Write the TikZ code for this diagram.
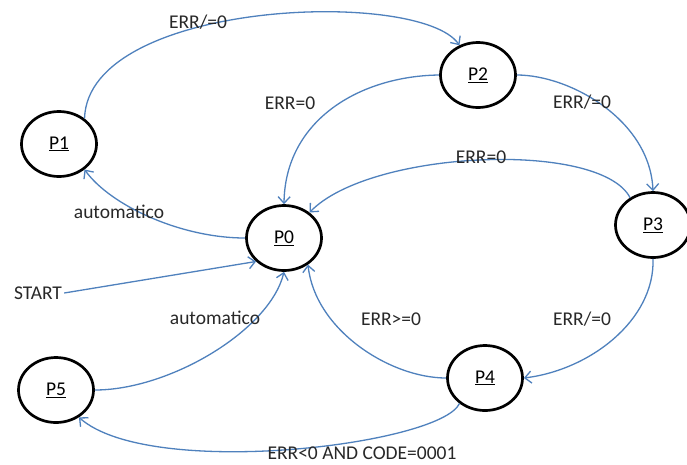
\documentclass[tikz,border=0pt]{standalone}
\usepackage{fontspec}
\setmainfont{Carlito}
\usetikzlibrary{shapes.geometric,arrows.meta}
\definecolor{linkblue}{RGB}{79,129,189}
\definecolor{txt}{RGB}{40,40,40}
\begin{document}
\begin{tikzpicture}[x=1pt,y=-1pt,
  state/.style={ellipse,draw=black,line width=2.7pt,minimum width=75pt,
    minimum height=65pt,inner sep=0pt,font=\fontsize{19.5}{22}\selectfont},
  link/.style={draw=linkblue,line width=1.3pt,
    -{Straight Barb[length=6.5pt,width=12pt]}},
  lbl/.style={text=txt,font=\fontsize{19.5}{22}\selectfont,inner sep=2pt}]
\useasboundingbox[fill=white] (0,0) rectangle (687,464);

% states
\node[state] (P0) at (284,238) {\underline{P0}};
\node[state] (P1) at (59,144)  {\underline{P1}};
\node[state] (P2) at (478,75)  {\underline{P2}};
\node[state] (P3) at (653,225) {\underline{P3}};
\node[state] (P4) at (485,378) {\underline{P4}};
\node[state] (P5) at (56,390)  {\underline{P5}};
\node[lbl] (start) at (38,293) {START};

% transitions
\draw[link] (P1.45) .. controls (88,0) and (420,-12) .. (P2.122);
\draw[link] (P2.west) .. controls (360,76) and (285,120) .. (P0.north);
\draw[link] (P2.east) .. controls (570,75) and (650,120) .. (P3.north);
\draw[link] (P3.130) .. controls (600,140) and (370,150) .. (P0.45);
\draw[link] (P0.west) .. controls (180,238) and (110,205) .. (P1.-45);
\draw[link] (start.east) -- (P0.220);
\draw[link] (P5.east) .. controls (170,390) and (270,330) .. (P0.south);
\draw[link] (P3.south) .. controls (655,320) and (590,370) .. (P4.east);
\draw[link] (P4.west) .. controls (390,378) and (315,330) .. (P0.-48);
\draw[link] (P4.225) .. controls (440,445) and (150,480) .. (P5.-50);

% transition labels
\node[lbl] (l12) at (198,22)  {ERR/=0};
\node[lbl] (l20) at (290,103) {ERR=0};
\node[lbl] (l23) at (582,102) {ERR/=0};
\node[lbl] (l30) at (481,157) {ERR=0};
\node[lbl] (l01) at (119,212) {automatico};
\node[lbl] (l50) at (215,318) {automatico};
\node[lbl] (l40) at (391,319) {ERR>=0};
\node[lbl] (l34) at (582,319) {ERR/=0};
\node[lbl] (l45) at (362,453) {ERR<0 AND CODE=0001};
\end{tikzpicture}
\end{document}
